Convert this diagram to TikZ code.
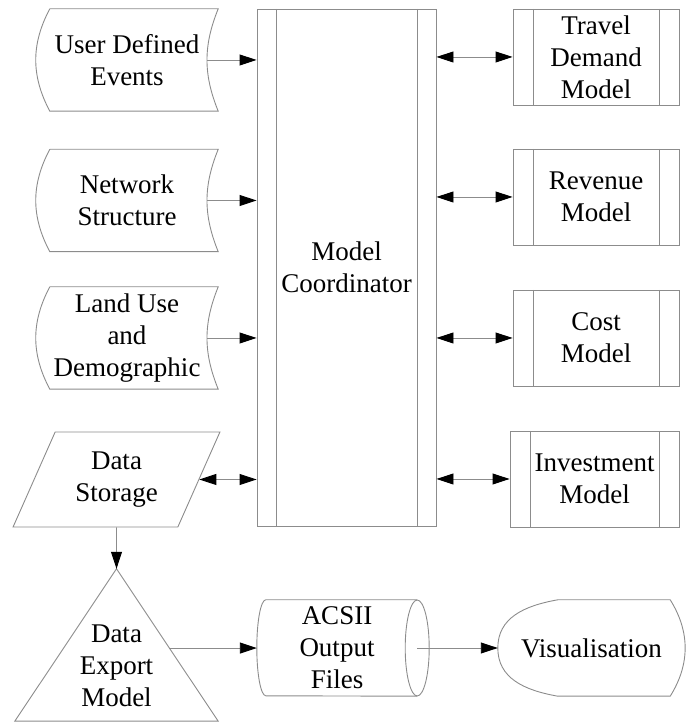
\documentclass[tikz,border=0pt]{standalone}
\usepackage{fontspec}
\setmainfont{Liberation Serif}
\usetikzlibrary{arrows.meta,positioning,calc,shapes.geometric}
\definecolor{edgegray}{gray}{0.55}

\begin{document}
\begin{tikzpicture}[x=1pt, y=1pt, >={Triangle[length=17pt,width=11pt,color=black]},
  every node/.style={font=\fontsize{27}{32}\selectfont, align=center, inner sep=0pt},
  line/.style={draw=edgegray, line width=0.9pt},
  bars/.style={path picture={\draw[edgegray, line width=0.9pt]
    ([xshift=#1]path picture bounding box.north west) -- ([xshift=#1]path picture bounding box.south west)
    ([xshift=-#1]path picture bounding box.north east) -- ([xshift=-#1]path picture bounding box.south east);}}]
\tikzstyle{procbox}=[line, bars=20pt, rectangle, minimum width=166pt, minimum height=96pt]
\tikzstyle{stored}=[minimum width=182pt, minimum height=102pt]
\useasboundingbox (0,0) rectangle (685,722);

% coordinator and the model boxes
\node[line, bars=19pt, minimum width=179pt, minimum height=517pt] (coord) at (346.5,454.5) {Model\\Coordinator};
\node[procbox] (travel) at (596,665) {Travel\\Demand\\Model};
\node[procbox] (revenue) at (596,525) {Revenue\\Model};
\node[procbox] (cost) at (596,384) {Cost\\Model};
\node[procbox, minimum width=169pt] (invest) at (594.5,243) {Investment\\Model};

% input data
\node[stored] (events) at (127,662) {User Defined\\Events};
\node[stored] (network) at (127,521.5) {Network\\Structure};
\node[stored] (landuse) at (127,384) {Land Use\\and\\Demographic};
\foreach \n in {events,network,landuse}{
  \draw[line] ([xshift=14pt]\n.north west) -- (\n.north east) to[bend right=22] (\n.south east)
    -- ([xshift=14pt]\n.south west) to[bend left=28] ([xshift=14pt]\n.north west);
  \draw[line,->] ([xshift=-11pt]\n.east) -- (\n.east -| coord.west);
}
\foreach \n in {travel,revenue,cost,invest}
  \draw[line,<->] (\n.west -| coord.east) -- (\n.west);

% storage and export
\node[line, trapezium, trapezium left angle=63, trapezium right angle=117, trapezium stretches,
  minimum width=207pt, minimum height=95pt] (store) at (116.5,242.5) {Data\\Storage};
\draw[line,<->] (store.east) -- (store.east -| coord.west);

\node[minimum width=203pt, minimum height=110pt] (export) at (116.5,56) {Data\\Export\\Model};
\coordinate (export-top) at ($(export.north)+(0,42)$);
\draw[line] (export.south west) -- (export-top) -- (export.south east) -- cycle;
\coordinate (export-out) at ($(export.south east)!0.48!(export-top)$);
\draw[line,->] (store.south) -- (export-top);

% output files (drum)
\node[minimum width=160pt, minimum height=96pt] (ascii) at (337,74) {ACSII\\Output\\Files};
\draw[line] ([xshift=9pt]ascii.north west) -- (ascii.north east)
  ([xshift=9pt]ascii.north west) arc[start angle=90, end angle=270, x radius=9pt, y radius=48pt]
  -- (ascii.south east);
\draw[line] (ascii.east) ellipse [x radius=12pt, y radius=48pt];
\draw[line,->] (export-out) -- (export-out -| ascii.west);

\node[minimum width=187pt, minimum height=96pt] (vis) at (591.5,74) {Visualisation};
\draw[line] ([xshift=60pt]vis.north west) -- ([xshift=-15pt]vis.north east) to[bend left=32] ([xshift=-15pt]vis.south east)
  -- ([xshift=60pt]vis.south west) .. controls +(-34,6) and +(0,-30) .. (vis.west)
  .. controls +(0,30) and +(-34,-6) .. ([xshift=60pt]vis.north west);
\draw[line,->] (ascii.east) -- (vis.west);
\end{tikzpicture}
\end{document}
